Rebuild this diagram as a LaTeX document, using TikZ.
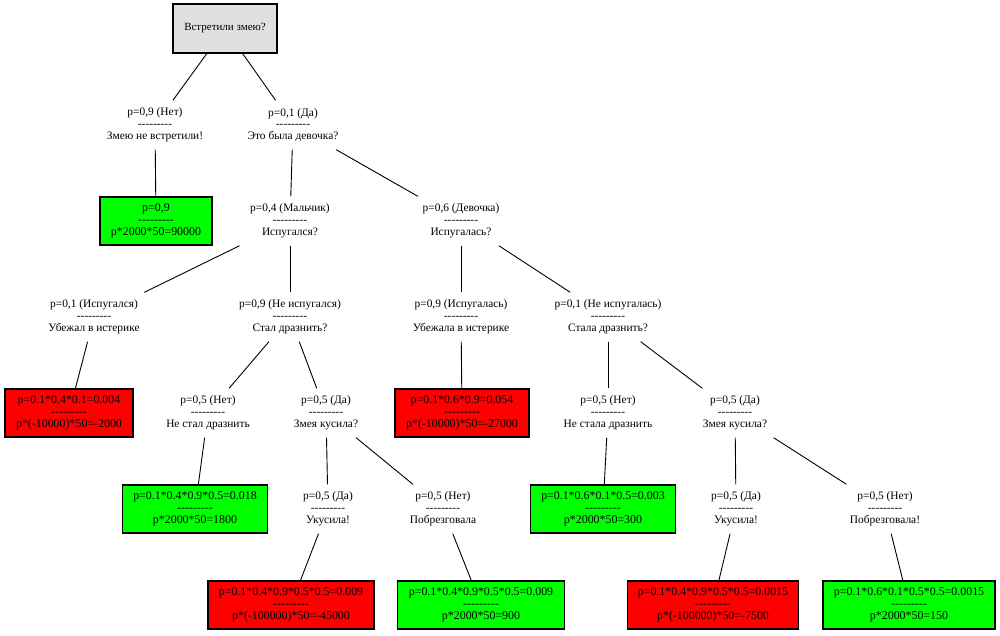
\documentclass[tikz,border=0pt]{standalone}
\usepackage{fontspec}
\newfontfamily\tfont{Liberation Serif}
\definecolor{rootgray}{RGB}{224,224,224}
\definecolor{leafgreen}{RGB}{0,255,0}
\definecolor{leafred}{RGB}{255,0,0}
\newcommand\dashrow{---------}
\begin{document}
\begin{tikzpicture}[x=1pt,y=-1pt,
 lbl/.style={font=\tfont\fontsize{11.4}{11.8}\selectfont, align=center, minimum width=112pt, minimum height=49pt, inner sep=0pt},
 leaf/.style={lbl, font=\tfont\fontsize{11.9}{12.2}\selectfont, draw=black, line width=1.2pt, minimum height=48pt},
 good/.style={leaf, fill=leafgreen},
 bad/.style={leaf, fill=leafred},
 rootbox/.style={leaf, font=\tfont\fontsize{11}{12}\selectfont, fill=rootgray},
 edge/.style={line width=0.9pt, black}]
\useasboundingbox (0,0) rectangle (1000,635);
\node[rootbox, minimum width=104pt, minimum height=49pt] (r) at (225,28.5) {Встретили змею?};
\node[lbl] (a) at (155,125) {p=0,9 (Нет)\\\dashrow\\Змею не встретили!};
\node[lbl] (b) at (293,125) {p=0,1 (Да)\\\dashrow\\Это была девочка?};
\node[good, minimum width=112pt] (g1) at (156,221) {p=0,9\\\dashrow\\p*2000*50=90000};
\node[lbl] (c) at (290,221) {p=0,4 (Мальчик)\\\dashrow\\Испугался?};
\node[lbl] (d) at (461,221) {p=0,6 (Девочка)\\\dashrow\\Испугалась?};
\node[lbl] (e) at (94,317) {p=0,1 (Испугался)\\\dashrow\\Убежал в истерике};
\node[lbl] (f) at (290,317) {p=0,9 (Не испугался)\\\dashrow\\Стал дразнить?};
\node[lbl] (g) at (461,317) {p=0,9 (Испугалась)\\\dashrow\\Убежала в истерике};
\node[lbl] (h) at (608,317) {p=0,1 (Не испугалась)\\\dashrow\\Стала дразнить?};
\node[bad, minimum width=128pt] (r1) at (69,413) {p=0.1*0.4*0.1=0.004\\\dashrow\\p*(-10000)*50=-2000};
\node[lbl] (i) at (208,413) {p=0,5 (Нет)\\\dashrow\\Не стал дразнить};
\node[lbl] (j) at (326,413) {p=0,5 (Да)\\\dashrow\\Змея кусила?};
\node[bad, minimum width=134pt] (r2) at (462,413) {p=0.1*0.6*0.9=0.054\\\dashrow\\p*(-10000)*50=-27000};
\node[lbl] (k) at (608,413) {p=0,5 (Нет)\\\dashrow\\Не стала дразнить};
\node[lbl] (l) at (735,413) {p=0,5 (Да)\\\dashrow\\Змея кусила?};
\node[good, minimum width=145pt] (g2) at (195,509) {p=0.1*0.4*0.9*0.5=0.018\\\dashrow\\p*2000*50=1800};
\node[lbl] (m) at (328,509) {p=0,5 (Да)\\\dashrow\\Укусила!};
\node[lbl] (n) at (443,509) {p=0,5 (Нет)\\\dashrow\\Побрезговала};
\node[good, minimum width=145pt] (g3) at (603,509) {p=0.1*0.6*0.1*0.5=0.003\\\dashrow\\p*2000*50=300};
\node[lbl] (o) at (736,509) {p=0,5 (Да)\\\dashrow\\Укусила!};
\node[lbl] (p) at (885,509) {p=0,5 (Нет)\\\dashrow\\Побрезговала!};
\node[bad, minimum width=166pt] (r3) at (291,605) {p=0.1*0.4*0.9*0.5*0.5=0.009\\\dashrow\\p*(-100000)*50=-45000};
\node[good, minimum width=167pt] (g4) at (481,605) {p=0.1*0.4*0.9*0.5*0.5=0.009\\\dashrow\\p*2000*50=900};
\node[bad, minimum width=171pt] (r4) at (713,605) {p=0.1*0.4*0.9*0.5*0.5=0.0015\\\dashrow\\p*(-100000)*50=-7500};
\node[good, minimum width=172pt] (g5) at (909,605) {p=0.1*0.6*0.1*0.5*0.5=0.0015\\\dashrow\\p*2000*50=150};
\draw[edge] (r) -- (a);
\draw[edge] (r) -- (b);
\draw[edge] (a) -- (g1);
\draw[edge] (b) -- (c);
\draw[edge] (b) -- (d);
\draw[edge] (c) -- (e);
\draw[edge] (c) -- (f);
\draw[edge] (d) -- (g);
\draw[edge] (d) -- (h);
\draw[edge] (e) -- (r1);
\draw[edge] (f) -- (i);
\draw[edge] (f) -- (j);
\draw[edge] (g) -- (r2);
\draw[edge] (h) -- (k);
\draw[edge] (h) -- (l);
\draw[edge] (i) -- (g2);
\draw[edge] (j) -- (m);
\draw[edge] (j) -- (n);
\draw[edge] (k) -- (g3);
\draw[edge] (l) -- (o);
\draw[edge] (l) -- (p);
\draw[edge] (m) -- (r3);
\draw[edge] (n) -- (g4);
\draw[edge] (o) -- (r4);
\draw[edge] (p) -- (g5);
\end{tikzpicture}
\end{document}
